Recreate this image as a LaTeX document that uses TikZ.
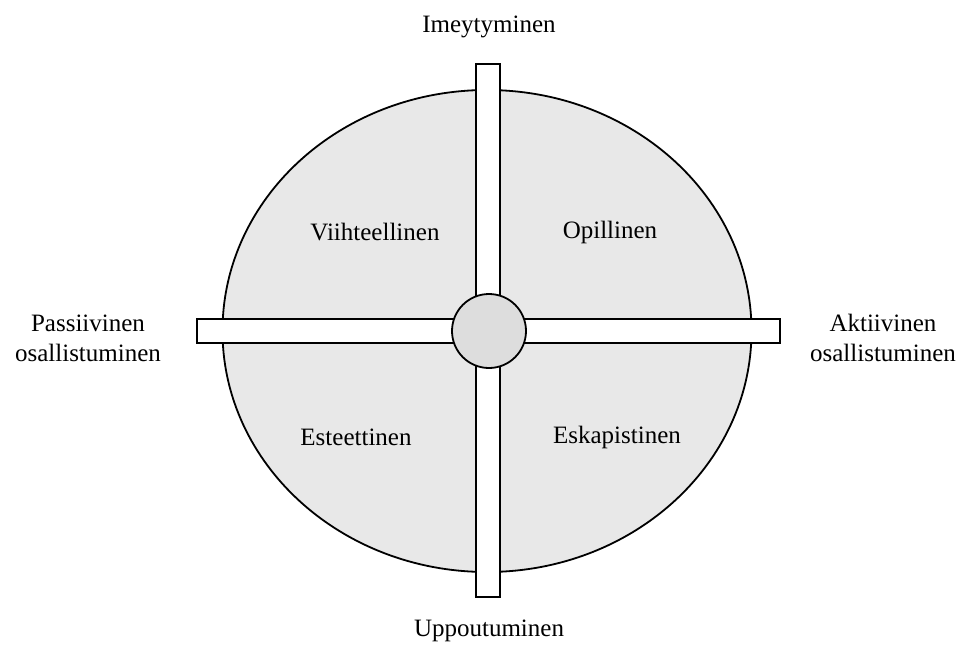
\documentclass[tikz,border=0pt]{standalone}
\usepackage{fontspec}
\setmainfont{Liberation Serif}
\usetikzlibrary{shapes.geometric}
\definecolor{ellfill}{HTML}{E8E8E8}
\definecolor{hubfill}{HTML}{DDDDDD}
\begin{document}
\begin{tikzpicture}[x=1pt,y=-1pt,
  lbl/.style={font=\fontsize{25}{30}\selectfont, align=center, inner sep=0pt},
  bar/.style={draw=black, fill=white, line width=1.8pt},
]
\useasboundingbox (0,0) rectangle (957,653);
% big ellipse
\node[draw=black, fill=ellfill, line width=1.8pt, ellipse, minimum width=529pt, minimum height=482pt, inner sep=0pt] (ell) at (487,331) {};
% bars
\path[bar] (197,319) rectangle (780,343);
\path[bar] (476,64) rectangle (500,597);
% hub
\node[draw=black, fill=hubfill, line width=1.8pt, circle, minimum size=74pt, inner sep=0pt] (hub) at (489,331) {};
% labels
\node[lbl] (top) at (489,27) {Imeytyminen};
\node[lbl] (bottom) at (489,631) {Uppoutuminen};
\node[lbl] (left) at (88,338) {Passiivinen\\osallistuminen};
\node[lbl] (right) at (883,338) {Aktiivinen\\osallistuminen};
\node[lbl] (q1) at (375,232) {Viihteellinen};
\node[lbl] (q2) at (610,232) {Opillinen};
\node[lbl] (q3) at (356,437) {Esteettinen};
\node[lbl] (q4) at (617,437) {Eskapistinen};
\end{tikzpicture}
\end{document}
